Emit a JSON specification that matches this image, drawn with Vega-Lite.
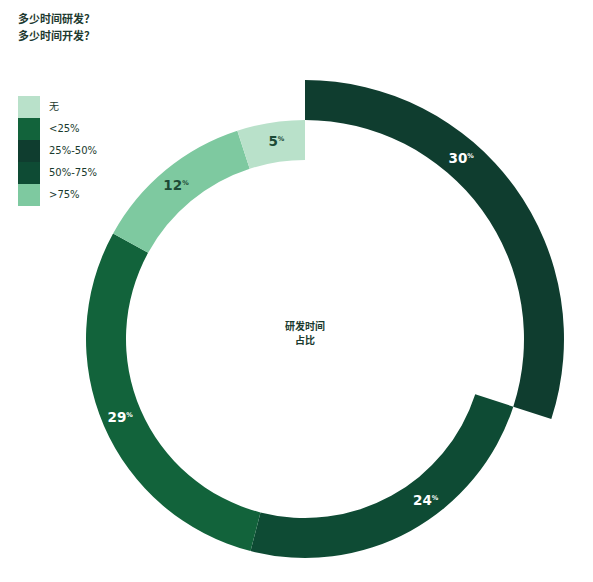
{
  "$schema": "https://vega.github.io/schema/vega-lite/v6.json",
  "autosize": {"type": "none"},
  "width": 576,
  "height": 486,
  "padding": {"left": 17, "top": 96, "right": 0, "bottom": 0},
  "background": "white",
  "title": {
    "text": ["多少时间研发？", "多少时间开发？"],
    "orient": "top",
    "anchor": "start",
    "font": "Noto Sans CJK SC",
    "fontSize": 11,
    "fontWeight": "bold",
    "lineHeight": 17,
    "color": "#1e3a30",
    "offset": 14,
    "dx": 1
  },
  "data": {
    "values": [
      {"cat": "25%-50%", "pct": 30, "idx": 1},
      {"cat": "50%-75%", "pct": 24, "idx": 2},
      {"cat": "<25%", "pct": 29, "idx": 3},
      {"cat": ">75%", "pct": 12, "idx": 4},
      {"cat": "无", "pct": 5, "idx": 5}
    ]
  },
  "encoding": {
    "theta": {"field": "pct", "type": "quantitative", "stack": true},
    "order": {"field": "idx", "type": "quantitative"}
  },
  "layer": [
    {
      "mark": {"type": "arc", "radius": 219, "radius2": 179, "strokeWidth": 0},
      "encoding": {
        "color": {
          "field": "cat",
          "type": "nominal",
          "scale": {
            "domain": ["无", "<25%", "25%-50%", "50%-75%", ">75%"],
            "range": ["#b9e1ca", "#12633b", "#0f3d2f", "#0e4b34", "#7ec9a0"]
          },
          "legend": {
            "title": null,
            "orient": "none",
            "legendX": 1,
            "legendY": 0,
            "symbolType": "square",
            "symbolSize": 484,
            "symbolStrokeWidth": 0,
            "symbolOpacity": 1,
            "rowPadding": 0,
            "labelOffset": 9,
            "labelFont": "DejaVu Sans, Noto Sans CJK SC",
            "labelFontSize": 10,
            "labelFontWeight": "normal",
            "labelColor": "#1a3a2e",
            "padding": 0
          }
        },
        "opacity": {"condition": {"test": "datum.cat === '25%-50%'", "value": 0}, "value": 1}
      }
    },
    {
      "mark": {"type": "arc", "radius": 259, "radius2": 219, "strokeWidth": 0},
      "encoding": {
        "color": {"field": "cat", "type": "nominal"},
        "opacity": {"condition": {"test": "datum.cat === '25%-50%'", "value": 1}, "value": 0}
      }
    },
    {
      "mark": {"type": "text", "radius": 199, "align": "right", "baseline": "middle", "dx": 4, "font": "DejaVu Sans", "fontSize": 13.5, "fontWeight": "bold"},
      "encoding": {
        "text": {"field": "pct", "type": "quantitative"},
        "color": {"condition": {"test": "datum.pct >= 20", "value": "white"}, "value": "#1d4a36"},
        "opacity": {"condition": {"test": "datum.cat === '25%-50%' || datum.cat === '50%-75%'", "value": 0}, "value": 1}
      }
    },
    {
      "mark": {"type": "text", "radius": 199, "align": "left", "baseline": "middle", "dx": 4, "dy": -3, "font": "DejaVu Sans", "fontSize": 6.5, "fontWeight": "bold", "text": "%"},
      "encoding": {
        "color": {"condition": {"test": "datum.pct >= 20", "value": "white"}, "value": "#1d4a36"},
        "opacity": {"condition": {"test": "datum.cat === '25%-50%' || datum.cat === '50%-75%'", "value": 0}, "value": 1}
      }
    },
    {
      "mark": {"type": "text", "radius": 199, "align": "right", "baseline": "middle", "dx": 31, "dy": -12, "font": "DejaVu Sans", "fontSize": 13.5, "fontWeight": "bold", "color": "white"},
      "encoding": {
        "text": {"field": "pct", "type": "quantitative"},
        "opacity": {"condition": {"test": "datum.cat === '50%-75%'", "value": 1}, "value": 0}
      }
    },
    {
      "mark": {"type": "text", "radius": 199, "align": "left", "baseline": "middle", "dx": 31, "dy": -15, "font": "DejaVu Sans", "fontSize": 6.5, "fontWeight": "bold", "color": "white", "text": "%"},
      "encoding": {
        "opacity": {"condition": {"test": "datum.cat === '50%-75%'", "value": 1}, "value": 0}
      }
    },
    {
      "mark": {"type": "text", "radius": 239, "align": "right", "baseline": "middle", "dx": -31, "dy": -40, "font": "DejaVu Sans", "fontSize": 13.5, "fontWeight": "bold", "color": "white"},
      "encoding": {
        "text": {"field": "pct", "type": "quantitative"},
        "opacity": {"condition": {"test": "datum.cat === '25%-50%'", "value": 1}, "value": 0}
      }
    },
    {
      "mark": {"type": "text", "radius": 239, "align": "left", "baseline": "middle", "dx": -31, "dy": -43, "font": "DejaVu Sans", "fontSize": 6.5, "fontWeight": "bold", "color": "white", "text": "%"},
      "encoding": {
        "opacity": {"condition": {"test": "datum.cat === '25%-50%'", "value": 1}, "value": 0}
      }
    },
    {
      "data": {"values": [{"label": "研发时间\n占比"}]},
      "mark": {"type": "text", "align": "center", "baseline": "middle", "dy": -12, "lineBreak": "\n", "lineHeight": 14, "font": "Noto Sans CJK SC", "fontSize": 10, "fontWeight": "bold", "color": "#1a3a2e"},
      "encoding": {
        "theta": null,
        "order": null,
        "text": {"field": "label", "type": "nominal"}
      }
    }
  ]
}
